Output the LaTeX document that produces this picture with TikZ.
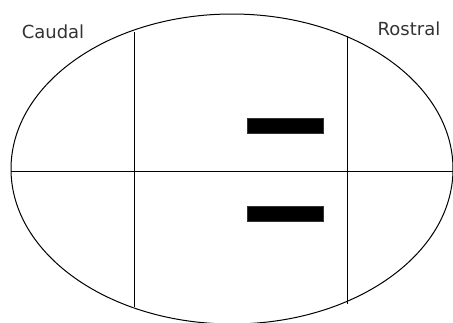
\documentclass[tikz,border=0pt]{standalone}
\usepackage{fontspec}
\setmainfont{DejaVu Sans}
\begin{document}
\begin{tikzpicture}[x=1pt,y=-1pt,
  outline/.style={draw=black,line width=1pt},
  divider/.style={draw=black,line width=1pt},
  bar/.style={fill=black,draw=black!80,line width=0.5pt},
  lab/.style={font=\fontsize{18}{20}\selectfont,text=black!80,anchor=base,inner sep=0pt}]
\useasboundingbox (0,0) rectangle (453,322);
\fill[white] (0,0) rectangle (453,322);
\draw[outline] (232,169) ellipse [x radius=221, y radius=155];
\coordinate (lt) at (134,32);
\coordinate (lb) at (134,307);
\coordinate (rt) at (347,36);
\coordinate (rb) at (347,304);
\coordinate (hl) at (11,171);
\coordinate (hr) at (453,171);
\draw[divider] (lt) -- (lb);
\draw[divider] (rt) -- (rb);
\draw[divider] (hl) -- (hr);
\draw[bar] (247,118) rectangle (323,133);
\draw[bar] (247,206) rectangle (323,221);
\node[lab] (caudal) at (53,38) {Caudal};
\node[lab] (rostral) at (409,35) {Rostral};
\end{tikzpicture}
\end{document}
